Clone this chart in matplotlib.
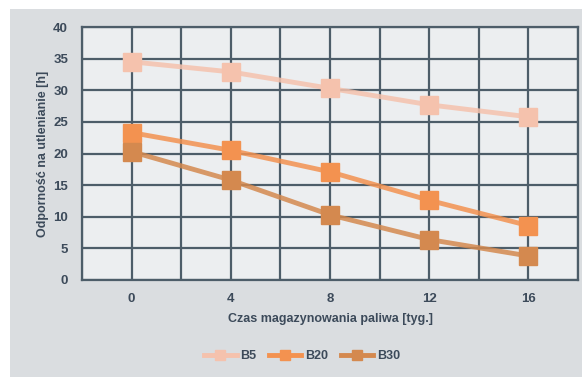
import matplotlib
matplotlib.use("Agg")
import matplotlib.pyplot as plt
from matplotlib.patches import Rectangle
import numpy as np

# Storage time (weeks) and oxidation stability (h) per blend
weeks = ["0", "4", "8", "12", "16"]
series_names = ["B5", "B20", "B30"]
b5 = [34.5, 32.9, 30.3, 27.7, 25.8]
b20 = [23.3, 20.5, 17.1, 12.6, 8.6]
b30 = [20.3, 15.8, 10.3, 6.4, 3.8]
y_ticks = [0, 5, 10, 15, 20, 25, 30, 35, 40]

line_colors = ["#f5c2ad", "#f39250", "#d4894f"]
text_color = "#3c4a5a"
grid_color = "#4d5d69"

plt.rcParams["font.family"] = ["Liberation Sans", "DejaVu Sans"]
plt.rcParams["font.weight"] = "bold"

fig = plt.figure(figsize=(5.82, 3.77), dpi=100, facecolor="white")

# grey chart panel
fig.patches.append(Rectangle((10 / 582, 0), 1 - 10 / 582, 1 - 9 / 377,
                             transform=fig.transFigure, facecolor="#dadde0",
                             edgecolor="none", zorder=-10))

ax = fig.add_axes([82 / 582, 1 - 280 / 377, (578 - 82) / 582, (280 - 27) / 377])
ax.set_zorder(1)
ax.set_facecolor("#eceef0")

x = np.arange(len(weeks))
for vals, name, col in zip([b5, b20, b30], series_names, line_colors):
    ax.plot(x, vals, color=col, lw=3.5, alpha=0.85, solid_capstyle="round",
            zorder=3)
    ax.plot(x, vals, color=col, lw=3.5, linestyle="none", zorder=4,
            marker="s", markersize=13, markerfacecolor=col,
            markeredgecolor=col, label=name)

ax.set_xlim(-0.5, len(weeks) - 0.5)
ax.set_ylim(0, 40)
ax.set_xticks(x)
ax.set_xticklabels(weeks)
ax.set_yticks(y_ticks)

# gridlines at every category centre and boundary, plus every 5 h
for gx in np.arange(-0.5, len(weeks), 0.5):
    ax.axvline(gx, color=grid_color, lw=1.6, zorder=1)
for gy in y_ticks:
    ax.axhline(gy, color=grid_color, lw=1.6, zorder=1)
for s in ax.spines.values():
    s.set_color(grid_color)
    s.set_linewidth(1.6)

ax.tick_params(length=0, colors=text_color, labelsize=9.5)
ax.tick_params(axis="y", pad=10)
ax.tick_params(axis="x", pad=9)
for lab in ax.get_xticklabels() + ax.get_yticklabels():
    lab.set_fontweight("bold")

ax.set_xlabel("Czas magazynowania paliwa [tyg.]", color=text_color,
              fontsize=9, fontweight="bold", labelpad=6)
ax.set_ylabel("Odporność na utlenianie [h]", color=text_color,
              fontsize=9, fontweight="bold", labelpad=3)

handles = [plt.Line2D([], [], color=c, lw=3.5, marker="s", markersize=7,
                      markerfacecolor=c, markeredgecolor=c)
           for c in line_colors]
leg = fig.legend(handles, series_names, loc="center",
                 bbox_to_anchor=(302 / 582, 1 - 356 / 377),
                 ncol=3, frameon=False, fontsize=9, handlelength=2.6,
                 columnspacing=1.0, handletextpad=0.3)
for t in leg.get_texts():
    t.set_color(text_color)
    t.set_fontweight("bold")

fig.savefig("out.png", dpi=100, facecolor=fig.get_facecolor())
